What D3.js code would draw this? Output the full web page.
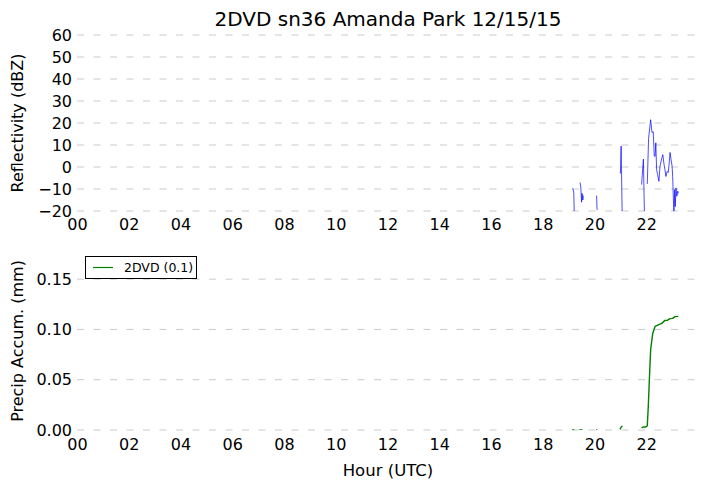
<!DOCTYPE html>
<html><head><meta charset="utf-8">
<script src="https://cdn.jsdelivr.net/npm/d3@7"></script>
<style>body{margin:0;background:#fff}svg{display:block;font-family:"DejaVu Sans",sans-serif}</style>
</head><body><svg id="c" width="707" height="490"></svg>
<script>
const title = "2DVD sn36 Amanda Park 12/15/15";
const xTicks = [0,2,4,6,8,10,12,14,16,18,20,22];
const refTicks = [-20,-10,0,10,20,30,40,50,60];
const accTicks = [0,0.05,0.10,0.15];
// Reflectivity segments [hour, dBZ]; null separates segments
const reflHours = [19.15,19.17,19.2,19.22,null,19.44,19.47,19.5,19.52,19.55,19.57,null,20.08,20.1,null,
  21.0,21.03,21.07,null,21.82,21.89,21.93,null,
  22.04,22.09,22.17,22.22,22.27,22.31,22.34,22.37,22.40,22.44,22.49,22.53,22.60,22.64,22.69,22.72,22.76,22.81,22.85,22.88,22.92,22.96,23.00,23.02,23.07,23.10,23.12,23.15,23.18,23.22,23.24];
const reflValues = [-9.7,-10,-12,-22,null,-7,-9,-16,-12,-15,-13,null,-13,-19.5,null,
  -3,9.5,-22,null,-8,3.6,-22,null,
  -7.7,13,21.5,15.7,16,5,4.8,11,-1.2,-3.5,-6.5,0.3,4,5.6,1,-1,-4.3,-2,-2.5,1,6.6,3.3,0.3,-4.3,-22,-10.3,-18,-9.5,-13.3,-11,-12];
// Precip accumulation [hour, mm]
const accHours = [19.14,19.22,null,19.41,19.54,null,20.06,20.11,null,20.99,21.03,21.08,null,
  21.82,21.9,21.98,22.04,22.08,22.12,22.17,22.25,22.34,22.47,22.60,22.72,22.81,22.92,23.02,23.11,23.24];
const accValues = [0,0,null,0,0,null,0,0,null,0.0005,0.003,0.004,null,
  0.002,0.003,0.003,0.004,0.024,0.05,0.08,0.096,0.103,0.1045,0.106,0.109,0.109,0.1107,0.111,0.1127,0.113];
const legendLabel = "2DVD (0.1)";

const svg = d3.select("#c");
const x = d3.scaleLinear().domain([0,24]).range([77,698]);
const yR = d3.scaleLinear().domain([-20,60]).range([211,35]);
const yA = d3.scaleLinear().domain([0,0.175]).range([430,254]);
const fmtH = d => String(d).padStart(2,"0");

function panel(y, ticks, fmt, label, clipId, xs, ys, color, width, labelY, xPad){
  const g = svg.append("g");
  const [y0,y1] = y.range();
  svg.append("clipPath").attr("id",clipId).append("rect")
    .attr("x",77).attr("y",y1).attr("width",621).attr("height",y0-y1);
  g.selectAll(".gl").data(ticks).join("line")
    .attr("x1",77).attr("x2",698).attr("y1",d=>y(d)).attr("y2",d=>y(d))
    .attr("stroke","#cbcbcb").attr("stroke-width",1).attr("stroke-dasharray","7,9.5");
  const ya = g.append("g").attr("transform","translate(77,0)")
    .call(d3.axisLeft(y).tickValues(ticks).tickFormat(fmt).tickSize(0).tickPadding(5));
  ya.select(".domain").remove();
  ya.selectAll("text").attr("font-size",16).attr("font-family","DejaVu Sans").attr("fill","#000")
    .text(function(){return d3.select(this).text().replace("-","\u2212");});
  const xa = g.append("g").attr("transform",`translate(0,${y0})`)
    .call(d3.axisBottom(x).tickValues(xTicks).tickFormat(fmtH).tickSize(0).tickPadding(xPad));
  xa.select(".domain").remove();
  xa.selectAll("text").attr("font-size",16).attr("font-family","DejaVu Sans").attr("fill","#000");
  svg.append("text").attr("transform",`translate(23,${labelY}) rotate(-90)`)
    .attr("text-anchor","middle").attr("font-size",16).text(label);
  const pts = xs.map((h,i)=>[h, ys[i]]);
  const line = d3.line().defined(d=>d[0]!==null && d[1]!==null).x(d=>x(d[0])).y(d=>y(d[1]));
  svg.append("path").datum(pts).attr("clip-path",`url(#${clipId})`)
    .attr("d",line).attr("fill","none").attr("stroke",color).attr("stroke-width",width)
    .attr("stroke-linejoin","round");
}

panel(yR, refTicks, d=>String(d), "Reflectivity (dBZ)", "cr", reflHours, reflValues, "#0000ff", 0.7, 123, 8);
panel(yA, accTicks, d3.format(".2f"), "Precip Accum. (mm)", "ca", accHours, accValues, "#008000", 1.4, 341, 9);

svg.append("text").attr("x",388).attr("y",26).attr("text-anchor","middle").attr("font-size",20).text(title);
svg.append("text").attr("x",388).attr("y",476).attr("text-anchor","middle").attr("font-size",16.5).text("Hour (UTC)");

const lg = svg.append("g");
lg.append("rect").attr("x",85.5).attr("y",256.5).attr("width",111).attr("height",22)
  .attr("fill","#fff").attr("stroke","#000").attr("stroke-width",1);
lg.append("line").attr("x1",93).attr("x2",113).attr("y1",267.5).attr("y2",267.5).attr("stroke","#008000").attr("stroke-width",1.2);
lg.append("text").attr("x",124).attr("y",271.5).attr("font-size",12.5).text(legendLabel);
</script></body></html>
